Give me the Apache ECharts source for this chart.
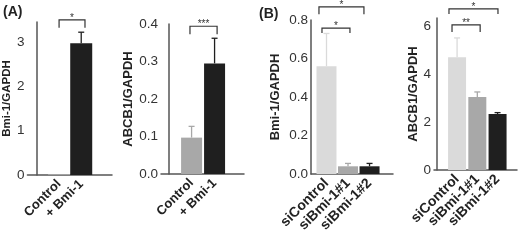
<!DOCTYPE html>
<html>
<head>
<meta charset="utf-8">
<script src="https://cdn.jsdelivr.net/npm/echarts@6/dist/echarts.min.js"></script>
<style>
html, body { margin: 0; padding: 0; background: #fff; }
#chart { width: 522px; height: 240px; }
</style>
</head>
<body>
<div id="chart"></div>
<script>
// (A) Bmi-1 overexpression
const catsA = ['Control', '+ Bmi-1']
const bmiA = [0.02, 2.97]
const bmiASd = [0, 0.25]
const abcbA = [0.097, 0.295]
const abcbASd = [0.03, 0.067]
// (B) Bmi-1 knockdown
const catsB = ['siControl', 'siBmi-1#1', 'siBmi-1#2']
const bmiB = [0.56, 0.04, 0.04]
const bmiBSd = [0.17, 0.015, 0.015]
const abcbB = [4.7, 3.04, 2.33]
const abcbBSd = [0.8, 0.21, 0.06]
// y tick labels
const ticksA1 = [0, 1, 2, 3]
const ticksA2 = [0, 0.1, 0.2, 0.3, 0.4]
const ticksB1 = [0, 0.2, 0.4, 0.6, 0.8]
const ticksB2 = [0, 2, 4, 6]
// significance brackets: [from, to, top, end, label]
const sigA1 = [[1.0, 2.17, 3.5, 3.32, '*']]
const sigA2 = [[0.93, 2.11, 0.394, 0.373, '***']]
const sigB1 = [[0.65, 2.74, 0.868, 0.83, '*'], [0.79, 2.09, 0.758, 0.732, '*']]
const sigB2 = [[0.6, 3.02, 6.71, 6.5, '*'], [0.75, 2.14, 6.04, 5.75, '**']]

const colorsA = ['#a8a8a8', '#1f1f1f']
const colorsB = ['#dadada', '#a8a8a8', '#1f1f1f']
const FONT = 'Liberation Sans, Arial, sans-serif'

const panels = [
  { cats: catsA, vals: bmiA, sd: bmiASd, ticks: ticksA1, sig: sigA1, colors: colorsA, name: 'Bmi-1/GAPDH',
    grid: { left: 24, right: 410, top: 22, bottom: 65 }, xMin: -0.43, xMax: 3.39, yMax: 3.45,
    barWidth: 22, nameGap: 14, nameSize: 11.5, labelSize: 13, dec: 0 },
  { cats: catsA, vals: abcbA, sd: abcbASd, ticks: ticksA2, sig: sigA2, colors: colorsA, name: 'ABCB1/GAPDH',
    grid: { left: 161, right: 278, top: 24, bottom: 66 }, xMin: -0.33, xMax: 3.28, yMax: 0.4,
    barWidth: 21, nameGap: 23, nameSize: 13, labelSize: 13, dec: 1 },
  { cats: catsB, vals: bmiB, sd: bmiBSd, ticks: ticksB1, sig: sigB1, colors: colorsB, name: 'Bmi-1/GAPDH',
    grid: { left: 311, right: 129, top: 20, bottom: 66 }, xMin: 0.28, xMax: 4.09, yMax: 0.8,
    barWidth: 20, nameGap: 29, nameSize: 13, labelSize: 14, dec: 1 },
  { cats: catsB, vals: abcbB, sd: abcbBSd, ticks: ticksB2, sig: sigB2, colors: colorsB, name: 'ABCB1/GAPDH',
    grid: { left: 434, right: 5, top: 18, bottom: 70 }, xMin: -0.14, xMax: 3.96, yMax: 6.33,
    barWidth: 18, nameGap: 12, nameSize: 13, labelSize: 14, dec: 0 }
]

const chart = echarts.init(document.getElementById('chart'), null, { renderer: 'canvas' })

const axisLine = { show: true, lineStyle: { color: '#555', width: 1.5 } }

const grids = [], xAxes = [], yAxes = [], series = []
panels.forEach(function(p, i) {
  grids.push(Object.assign({ containLabel: false }, p.grid))
  const positions = p.cats.map(function(c, k) { return k + 1 })
  xAxes.push({
    type: 'value', gridIndex: i, min: p.xMin, max: p.xMax,
    axisLine: axisLine, axisTick: { show: false }, splitLine: { show: false },
    axisLabel: {
      customValues: positions, rotate: 45, margin: 7, interval: 0,
      color: '#222', fontWeight: 'bold', fontSize: p.labelSize, fontFamily: FONT,
      formatter: function(v) { return p.cats[Math.round(v) - 1] || '' }
    }
  })
  yAxes.push({
    type: 'value', gridIndex: i, min: 0, max: p.yMax,
    axisLine: axisLine, axisTick: { show: false }, splitLine: { show: false },
    name: p.name, nameLocation: 'middle', nameGap: p.nameGap,
    nameTextStyle: { color: '#222', fontWeight: 'bold', fontSize: p.nameSize, fontFamily: FONT },
    axisLabel: {
      customValues: p.ticks, margin: 3, color: '#333', fontSize: 13.5, fontFamily: FONT,
      formatter: function(v) { return v.toFixed(p.dec) }
    }
  })
  series.push({
    type: 'bar', xAxisIndex: i, yAxisIndex: i, barWidth: p.barWidth,
    data: p.vals.map(function(v, k) {
      return { value: [k + 1, v], itemStyle: { color: p.colors[k] } }
    })
  })
  // error bars (upper whisker only)
  series.push({
    type: 'custom', xAxisIndex: i, yAxisIndex: i, silent: true,
    data: p.vals.map(function(v, k) { return [k + 1, v, v + p.sd[k]] }),
    renderItem: function(params, api) {
      const lo = api.coord([api.value(0), api.value(1)])
      const hi = api.coord([api.value(0), api.value(2)])
      const color = p.colors[params.dataIndex]
      if (hi[1] >= lo[1] - 0.5) return null
      return {
        type: 'group',
        children: [
          { type: 'line', shape: { x1: lo[0], y1: lo[1], x2: hi[0], y2: hi[1] }, style: { stroke: color, lineWidth: 1.3 } },
          { type: 'line', shape: { x1: hi[0] - 3, y1: hi[1], x2: hi[0] + 3, y2: hi[1] }, style: { stroke: color, lineWidth: 1.3 } }
        ]
      }
    }
  })
  // significance brackets
  series.push({
    type: 'custom', xAxisIndex: i, yAxisIndex: i, silent: true, clip: false,
    data: p.sig.map(function(s) { return [s[0], s[1], s[2], s[3]] }),
    renderItem: function(params, api) {
      const a = api.coord([api.value(0), api.value(3)])
      const b = api.coord([api.value(0), api.value(2)])
      const c = api.coord([api.value(1), api.value(2)])
      const d = api.coord([api.value(1), api.value(3)])
      return {
        type: 'group',
        children: [
          { type: 'polyline', shape: { points: [a, b, c, d] }, style: { stroke: '#333', lineWidth: 1.2, fill: null } },
          { type: 'text', x: (b[0] + c[0]) / 2, y: b[1] - 7,
            style: { text: p.sig[params.dataIndex][4], align: 'center', verticalAlign: 'top',
                     fill: '#333', fontSize: 10, fontFamily: FONT } }
        ]
      }
    }
  })
})

chart.setOption({
  animation: false,
  grid: grids,
  xAxis: xAxes,
  yAxis: yAxes,
  series: series,
  graphic: [
    { type: 'text', left: 3, top: 5, style: { text: '(A)', fill: '#222', font: 'bold 14px ' + FONT } },
    { type: 'text', left: 259, top: 7, style: { text: '(B)', fill: '#222', font: 'bold 14px ' + FONT } }
  ]
})
</script>
</body>
</html>
